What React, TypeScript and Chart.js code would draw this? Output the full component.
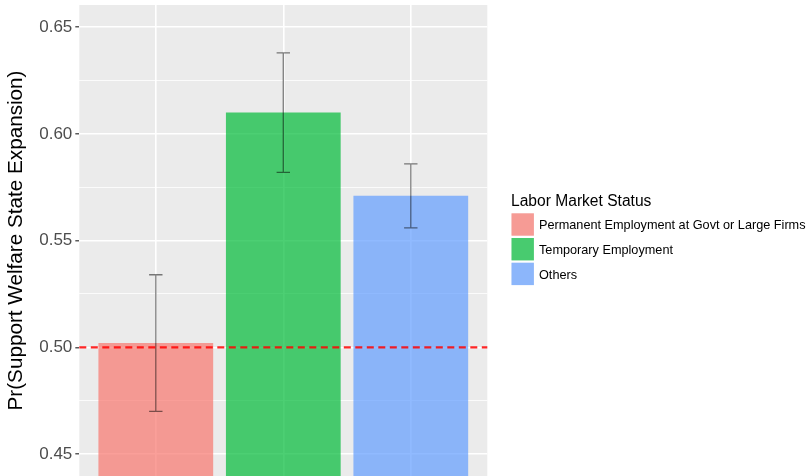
import React, { useEffect, useRef } from "react";
import { Chart, registerables } from "chart.js";

Chart.register(...registerables);

// Predicted probabilities by labour market status, with 95% intervals
const STATUS_LABELS = [
  "Permanent Employment at Govt or Large Firms",
  "Temporary Employment",
  "Others",
];
const STATUS_POSITIONS = [1, 2, 3];
const PREDICTED = [0.502, 0.61, 0.571];
const CI_LOWER = [0.47, 0.582, 0.556];
const CI_UPPER = [0.534, 0.638, 0.586];

const MAJOR_TICKS = [0.45, 0.5, 0.55, 0.6, 0.65];
const MINOR_TICKS = [0.475, 0.525, 0.575, 0.625];
const REFERENCE_LINE = 0.5;

const Y_MIN = 0.4397;
const Y_MAX = 0.6604;
const X_MIN = 0.4;
const X_MAX = 3.6;

const Y_TITLE = "Pr(Support Welfare State Expansion)";
const LEGEND_TITLE = "Labor Market Status";

const BAR_COLORS = [
  "rgba(248,118,109,0.7)",
  "rgba(0,186,56,0.7)",
  "rgba(97,156,255,0.7)",
];

const FONT = '"Liberation Sans", Arial, Helvetica, sans-serif';
const ERRORBAR_WIDTH = 0.105;

const isMajor = (v: number | undefined) =>
  v !== undefined && MAJOR_TICKS.some((m) => Math.abs(m - v) < 1e-9);

// grey panel behind the grid
const panelBackground = {
  id: "panelBackground",
  beforeDraw(chart: any) {
    const { ctx, chartArea } = chart;
    ctx.save();
    ctx.fillStyle = "#EBEBEB";
    ctx.fillRect(
      chartArea.left,
      chartArea.top,
      chartArea.right - chartArea.left,
      chartArea.bottom - chartArea.top
    );
    ctx.restore();
  },
};

// error bars and the dashed 0.5 reference line
const intervalsAndReference = {
  id: "intervalsAndReference",
  afterDatasetsDraw(chart: any) {
    const { ctx, chartArea } = chart;
    const xs = chart.scales.x;
    const ys = chart.scales.y;
    ctx.save();
    ctx.strokeStyle = "rgba(0,0,0,0.5)";
    ctx.lineWidth = 1.3;
    STATUS_POSITIONS.forEach((pos, i) => {
      const x = xs.getPixelForValue(pos);
      const half = xs.getPixelForValue(pos + ERRORBAR_WIDTH / 2) - x;
      const yLo = ys.getPixelForValue(CI_LOWER[i]);
      const yHi = ys.getPixelForValue(CI_UPPER[i]);
      ctx.beginPath();
      ctx.moveTo(x, yLo);
      ctx.lineTo(x, yHi);
      ctx.moveTo(x - half, yLo);
      ctx.lineTo(x + half, yLo);
      ctx.moveTo(x - half, yHi);
      ctx.lineTo(x + half, yHi);
      ctx.stroke();
    });

    const yRef = ys.getPixelForValue(REFERENCE_LINE);
    ctx.strokeStyle = "rgba(255,0,0,0.85)";
    ctx.lineWidth = 2.2;
    ctx.setLineDash([7, 4.5]);
    ctx.beginPath();
    ctx.moveTo(chartArea.left, yRef);
    ctx.lineTo(chartArea.right, yRef);
    ctx.stroke();
    ctx.restore();
  },
};

// legend on the right
const statusLegend = {
  id: "statusLegend",
  afterDraw(chart: any) {
    const { ctx } = chart;
    const left = 511.5;
    const top = 213.3;
    const key = 22.4;
    const pitch = 24.7;
    ctx.save();
    ctx.fillStyle = "#000";
    ctx.textBaseline = "alphabetic";
    ctx.textAlign = "left";
    ctx.font = `15.6px ${FONT}`;
    ctx.fillText(LEGEND_TITLE, 511, 205.7);
    ctx.font = `12.7px ${FONT}`;
    STATUS_LABELS.forEach((label, i) => {
      const y = top + i * pitch;
      ctx.fillStyle = "#F2F2F2";
      ctx.fillRect(left, y, key, key);
      ctx.fillStyle = BAR_COLORS[i];
      ctx.fillRect(left, y, key, key);
      ctx.fillStyle = "#000";
      ctx.fillText(label, 539, y + key / 2 + 4.6);
    });
    ctx.restore();
  },
};

export default function App() {
  const canvasRef = useRef<HTMLCanvasElement | null>(null);

  useEffect(() => {
    const canvas = canvasRef.current;
    if (!canvas) return;
    const chart = new Chart(canvas, {
      type: "bar",
      data: {
        datasets: [
          {
            label: LEGEND_TITLE,
            data: STATUS_POSITIONS.map((x, i) => ({ x, y: PREDICTED[i] })),
            backgroundColor: BAR_COLORS,
            borderWidth: 0,
            categoryPercentage: 0.9,
            barPercentage: 1,
          },
        ],
      },
      options: {
        responsive: false,
        animation: false,
        devicePixelRatio: 1,
        layout: { padding: { top: 5, right: 320.7, bottom: 0, left: 0 } },
        plugins: {
          legend: { display: false },
          tooltip: { enabled: false },
        },
        scales: {
          x: {
            type: "linear",
            min: X_MIN,
            max: X_MAX,
            offset: false,
            grid: {
              offset: false,
              color: "#FFFFFF",
              lineWidth: 1.6,
              drawTicks: false,
            },
            border: { display: false },
            ticks: { display: false },
            afterBuildTicks: (s: any) => {
              s.ticks = STATUS_POSITIONS.map((v) => ({ value: v }));
            },
            afterFit: (s: any) => {
              s.height = 0;
              s.paddingLeft = 0;
              s.paddingRight = 0;
            },
          },
          y: {
            type: "linear",
            min: Y_MIN,
            max: Y_MAX,
            grid: {
              color: "#FFFFFF",
              lineWidth: (c: any) => (isMajor(c.tick?.value) ? 1.6 : 0.8),
              tickColor: (c: any) =>
                isMajor(c.tick?.value) ? "#333333" : "rgba(0,0,0,0)",
              tickWidth: 1.2,
              tickLength: 4,
            },
            border: { display: false },
            ticks: {
              autoSkip: false,
              padding: 3,
              color: "#4D4D4D",
              font: { family: FONT, size: 17 },
              callback: (v: any) => (isMajor(Number(v)) ? Number(v).toFixed(2) : ""),
            },
            title: {
              display: true,
              text: Y_TITLE,
              color: "#000000",
              font: { family: FONT, size: 20.7 },
              padding: { top: 4.3, bottom: 0 },
            },
            afterBuildTicks: (s: any) => {
              s.ticks = [...MAJOR_TICKS, ...MINOR_TICKS]
                .sort((a, b) => a - b)
                .map((v) => ({ value: v }));
            },
            afterFit: (s: any) => {
              s.width = 79.3;
              s.paddingTop = 0;
              s.paddingBottom = 0;
            },
          },
        },
      },
      plugins: [panelBackground, intervalsAndReference, statusLegend],
    });
    return () => chart.destroy();
  }, []);

  return (
    <div
      style={{
        position: "fixed",
        left: 0,
        top: 0,
        width: 808,
        height: 476,
        background: "#FFFFFF",
      }}
    >
      <canvas
        ref={canvasRef}
        width={808}
        height={476}
        style={{ width: 808, height: 476, display: "block" }}
      />
    </div>
  );
}
